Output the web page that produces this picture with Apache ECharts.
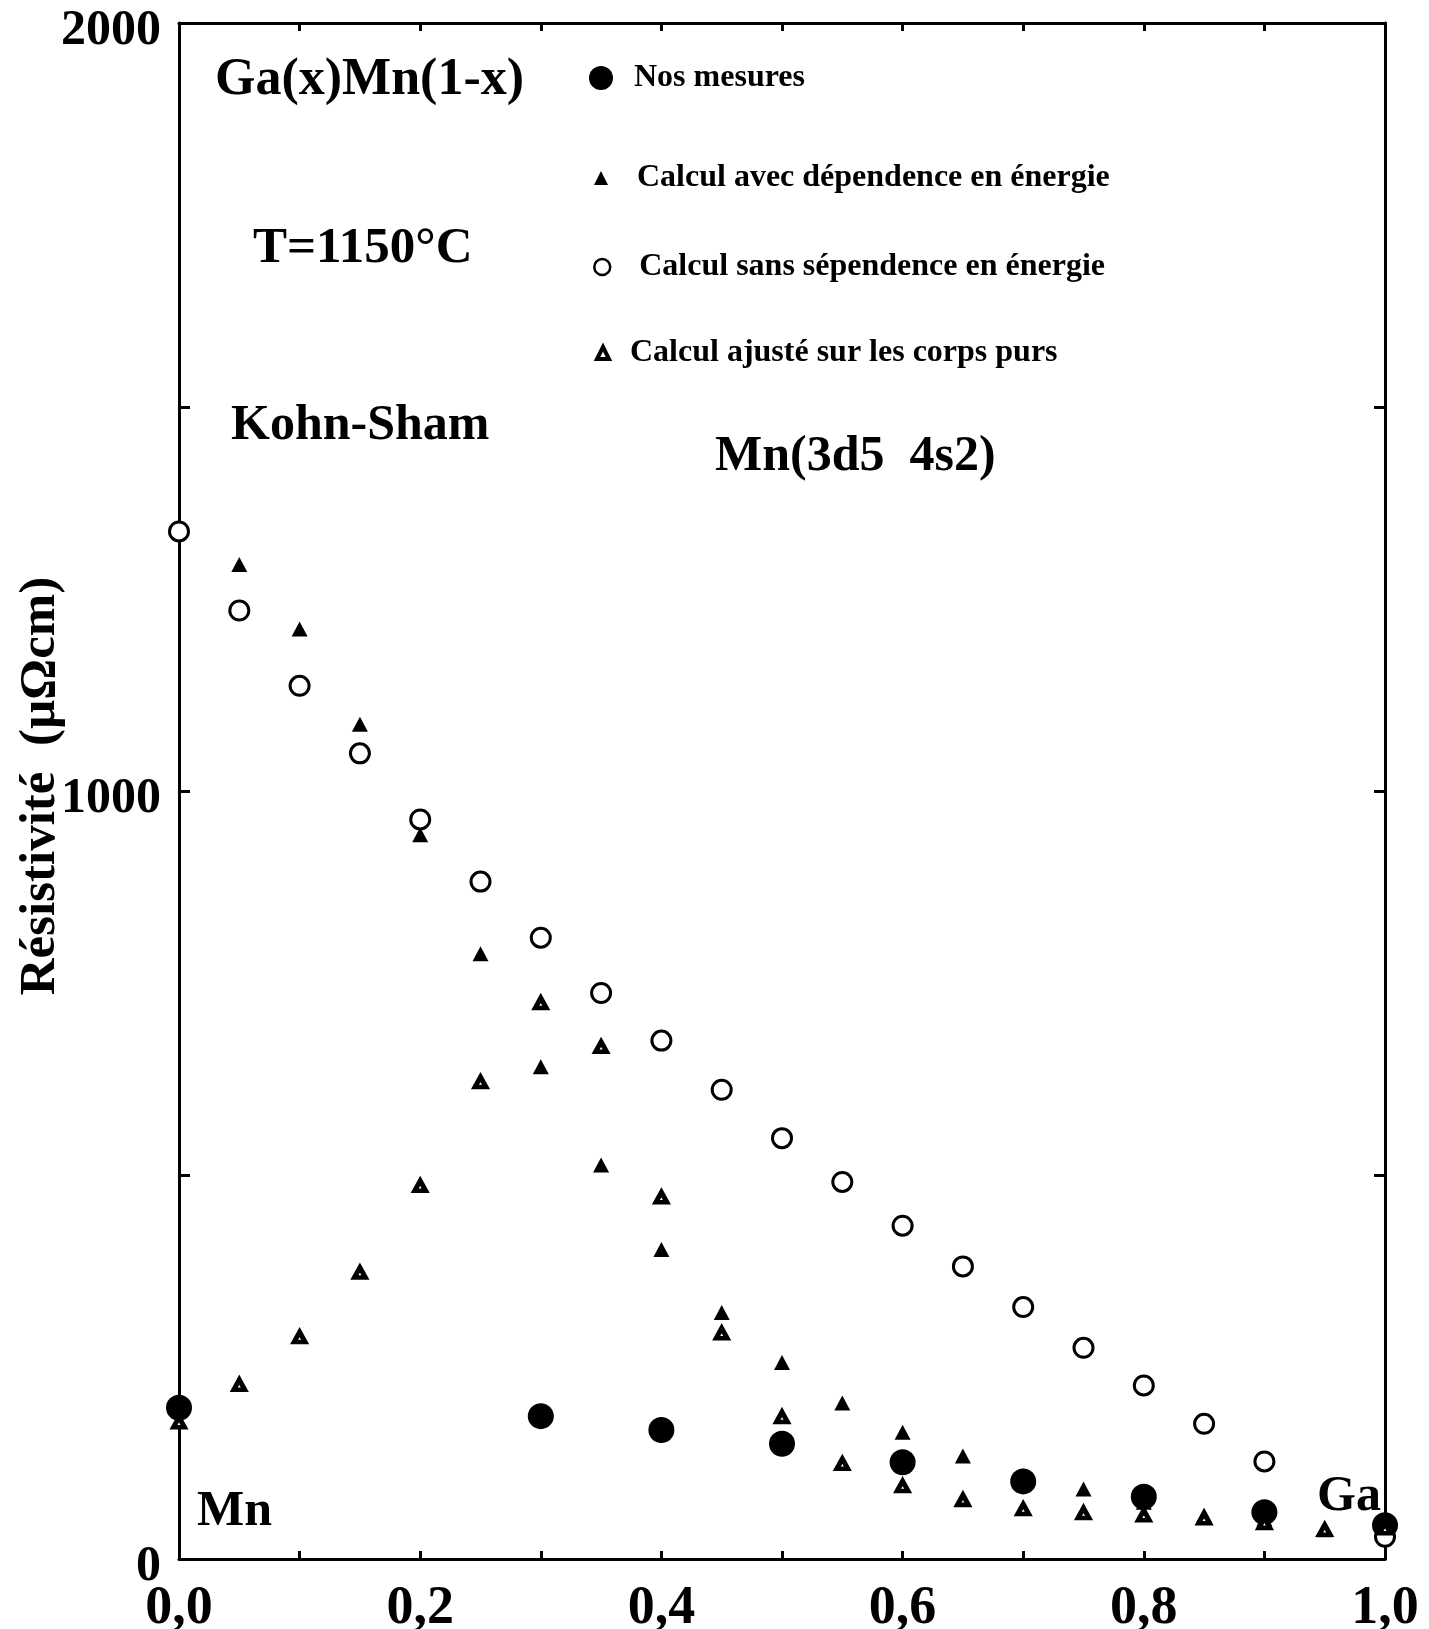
<!DOCTYPE html>
<html>
<head>
<meta charset="utf-8">
<script src="https://cdn.jsdelivr.net/npm/echarts@6/dist/echarts.min.js"></script>
<style>
html,body{margin:0;padding:0;background:#fff;}
#chart{width:1429px;height:1629px;}
</style>
</head>
<body>
<div id="chart"></div>
<script>
// ---- data ----
const xMesures = [0, 0.3, 0.4, 0.5, 0.6, 0.7, 0.8, 0.9, 1.0];
const yMesures = [197, 186, 168, 150, 126, 101, 81, 61, 44];

const xAvec = [0.05, 0.1, 0.15, 0.2, 0.25, 0.3, 0.35, 0.4, 0.45, 0.5, 0.55, 0.6, 0.65, 0.7, 0.75, 0.8, 0.85, 0.9, 0.95];
const yAvec = [1295, 1211, 1087, 943, 788, 641, 513, 403, 321, 256, 203, 165, 134, 108, 91, 74, 57, 52, 38];

const xSans = [0, 0.05, 0.1, 0.15, 0.2, 0.25, 0.3, 0.35, 0.4, 0.45, 0.5, 0.55, 0.6, 0.65, 0.7, 0.75, 0.8, 0.85, 0.9, 1.0];
const ySans = [1338, 1235, 1137, 1049, 963, 882, 809, 737, 675, 611, 548, 491, 434, 381, 328, 275, 226, 176, 127, 29];

const xAjuste = [0, 0.05, 0.1, 0.15, 0.2, 0.25, 0.3, 0.35, 0.4, 0.45, 0.5, 0.55, 0.6, 0.65, 0.7, 0.75, 0.8, 0.85, 0.9, 0.95, 1.0];
const yAjuste = [178, 227, 289, 373, 486, 621, 724, 667, 471, 294, 185, 124, 95, 77, 65, 60, 57, 53, 47, 38, 40];

const seriesNames = [
  'Nos mesures',
  'Calcul avec dépendence en énergie',
  'Calcul sans sépendence en énergie',
  'Calcul ajusté sur les corps purs'
];
const xTickLabels = ['0,0', '0,2', '0,4', '0,6', '0,8', '1,0'];
const yTickLabels = ['0', '1000', '2000'];
const yAxisName = 'Résistivité  (µΩcm)';
const annotations = ['Ga(x)Mn(1-x)', 'T=1150°C', 'Kohn-Sham', 'Mn(3d5  4s2)', 'Mn', 'Ga'];

const pairs = (xs, ys) => xs.map((x, i) => [x, ys[i]]);
const FONT = '"Liberation Serif", "Times New Roman", serif';

const chart = echarts.init(document.getElementById('chart'), null, {renderer: 'canvas'});

const axisLineStyle = {color: '#000', width: 3};

// one legend row per series (rows are unevenly spaced in the original)
const legendRow = (name, centerY, size, pad, itemStyle) => {
  const l = {
    data: [name],
    left: 601 - size / 2,
    top: centerY - size / 2 - 6,
    padding: 0,
    itemWidth: size,
    itemHeight: size,
    selectedMode: false,
    formatter: function (n) { return pad + n; },
    textStyle: {fontFamily: FONT, fontWeight: 'bold', fontSize: 32, color: '#000'}
  };
  if (itemStyle) l.itemStyle = itemStyle;
  return l;
};

const textEl = (txt, x, y, size) => ({
  type: 'text',
  x: x, y: y,
  style: {text: txt, font: 'bold ' + size + 'px ' + FONT, fill: '#000', verticalAlign: 'middle', align: 'left'}
});

chart.setOption({
  animation: false,
  backgroundColor: '#fff',
  grid: {left: 179, top: 23, width: 1206, height: 1536, containLabel: false, outerBoundsMode: 'none'},
  legend: [
    legendRow(seriesNames[0], 80, 24, '  '),
    legendRow(seriesNames[1], 175, 14, '   '),
    legendRow(seriesNames[2], 265, 16, '   ', {color: '#fff', borderColor: '#000', borderWidth: 2.5}),
    legendRow(seriesNames[3], 349, 12, '  ', {color: '#fff', borderColor: '#000', borderWidth: 4})
  ],
  xAxis: [
    {
      type: 'value', position: 'bottom', min: 0, max: 1, interval: 0.1,
      axisLine: {show: true, onZero: false, lineStyle: axisLineStyle},
      axisTick: {show: true, inside: true, length: 8, lineStyle: {color: '#000', width: 3}},
      splitLine: {show: false},
      axisLabel: {
        margin: 23,
        fontFamily: FONT, fontWeight: 'bold', fontSize: 54, color: '#000',
        formatter: function (v) {
          const k = Math.round(v * 10);
          return k % 2 === 0 ? xTickLabels[k / 2] : '';
        }
      }
    },
    {
      type: 'value', position: 'top', min: 0, max: 1, interval: 0.1,
      axisLine: {show: true, onZero: false, lineStyle: axisLineStyle},
      axisTick: {show: true, inside: true, length: 8, lineStyle: {color: '#000', width: 3}},
      axisLabel: {show: false},
      splitLine: {show: false}
    }
  ],
  yAxis: [
    {
      type: 'value', position: 'left', min: 0, max: 2000, interval: 500,
      name: yAxisName, nameLocation: 'middle', nameGap: 113, nameRotate: 90,
      nameMoveOverlap: false,
      nameTextStyle: {fontFamily: FONT, fontWeight: 'bold', fontSize: 51, color: '#000', padding: [0, 0, 0, 10]},
      axisLine: {show: true, onZero: false, lineStyle: axisLineStyle},
      axisTick: {show: true, inside: true, length: 11, lineStyle: {color: '#000', width: 3}},
      splitLine: {show: false},
      axisLabel: {
        margin: 18,
        fontFamily: FONT, fontWeight: 'bold', fontSize: 50, color: '#000',
        formatter: function (v) {
          const k = Math.round(v / 500);
          return k % 2 === 0 ? '{v|' + yTickLabels[k / 2] + '}' : '';
        },
        rich: {
          v: {fontFamily: FONT, fontWeight: 'bold', fontSize: 50, color: '#000', padding: [17, 0, 0, 0]}
        }
      }
    },
    {
      type: 'value', position: 'right', min: 0, max: 2000, interval: 500,
      axisLine: {show: true, onZero: false, lineStyle: axisLineStyle},
      axisTick: {show: true, inside: true, length: 11, lineStyle: {color: '#000', width: 3}},
      axisLabel: {show: false},
      splitLine: {show: false}
    }
  ],
  series: [
    {
      name: seriesNames[0], type: 'scatter', symbol: 'circle', symbolSize: 26,
      itemStyle: {color: '#000', opacity: 1},
      data: pairs(xMesures, yMesures), z: 2
    },
    {
      name: seriesNames[1], type: 'scatter', symbol: 'triangle', symbolSize: [16, 15],
      itemStyle: {color: '#000', opacity: 1},
      data: pairs(xAvec, yAvec), z: 3
    },
    {
      name: seriesNames[2], type: 'scatter', symbol: 'circle', symbolSize: 19,
      itemStyle: {color: '#fff', borderColor: '#000', borderWidth: 3, opacity: 1},
      data: pairs(xSans, ySans), z: 3
    },
    {
      name: seriesNames[3], type: 'scatter', symbol: 'triangle', symbolSize: [11, 10],
      itemStyle: {color: '#fff', borderColor: '#000', borderWidth: 4.8, opacity: 1},
      data: pairs(xAjuste, yAjuste), z: 4
    }
  ],
  graphic: [
    textEl(annotations[0], 215, 81, 52),
    textEl(annotations[1], 253, 249, 51),
    textEl(annotations[2], 231, 426, 50),
    textEl(annotations[3], 715, 457, 50),
    textEl(annotations[4], 197, 1512, 50),
    textEl(annotations[5], 1317, 1497, 50)
  ]
});
</script>
</body>
</html>
